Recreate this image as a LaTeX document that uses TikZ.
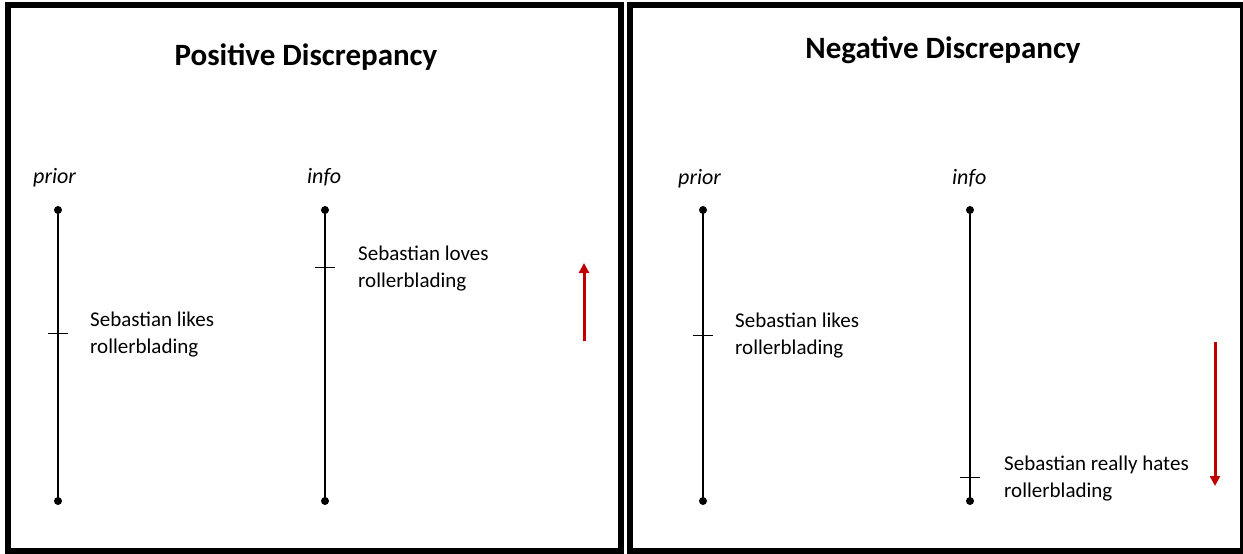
\documentclass[tikz,border=0pt]{standalone}
\usepackage{fontspec}
\setmainfont{Carlito}
\usetikzlibrary{arrows.meta}
\definecolor{arrred}{RGB}{192,0,0}
\tikzset{
  panel/.style={draw=black,line width=6pt},
  paneltitle/.style={font=\fontsize{31}{37}\selectfont\bfseries,anchor=base,inner sep=0pt},
  axislabel/.style={font=\fontsize{22}{26}\selectfont\itshape,anchor=base west,inner sep=0pt},
  desc/.style={font=\fontsize{21}{27}\selectfont,anchor=base west,align=left,inner sep=0pt},
  axisline/.style={draw=black,line width=2pt},
  tickmark/.style={draw=black,line width=1pt},
  enddot/.style={circle,fill=black,inner sep=0pt,minimum size=8pt},
  redarrow/.style={draw=arrred,line width=3pt,-{Triangle[length=10pt,width=10pt]}}
}
\begin{document}
\begin{tikzpicture}[x=1pt,y=-1pt]
\useasboundingbox (0,0) rectangle (1243,554);
\fill[white] (0,0) rectangle (1243,554);
% panels
\draw[panel] (8,5) rectangle (621,551);
\draw[panel] (630,5) rectangle (1243,551);
% left panel
\node[paneltitle] (t1) at (306,65) {Positive Discrepancy};
\node[axislabel] (p1) at (33,183) {prior};
\node[axislabel] (i1) at (307,183) {info};
\node[enddot] (p1a) at (58,210) {};
\node[enddot] (p1b) at (58,501) {};
\draw[axisline] (p1a.center) -- (p1b.center);
\coordinate (p1t) at (58,333);
\draw[tickmark] ([xshift=-10pt]p1t) -- ([xshift=10pt]p1t);
\node[desc] (l1) at (90,353) {Sebastian likes\\rollerblading};
\node[enddot] (i1a) at (325,210) {};
\node[enddot] (i1b) at (325,501) {};
\draw[axisline] (i1a.center) -- (i1b.center);
\coordinate (i1t) at (325,267);
\draw[tickmark] ([xshift=-10pt]i1t) -- ([xshift=10pt]i1t);
\node[desc] (l2) at (358,287) {Sebastian loves\\rollerblading};
\coordinate (a1s) at (584,341);
\coordinate (a1e) at (584,263);
\draw[redarrow] (a1s) -- (a1e);
% right panel
\node[paneltitle] (t2) at (943,58) {Negative Discrepancy};
\node[axislabel] (p2) at (678,184) {prior};
\node[axislabel] (i2) at (952,184) {info};
\node[enddot] (p2a) at (703,210) {};
\node[enddot] (p2b) at (703,501) {};
\draw[axisline] (p2a.center) -- (p2b.center);
\coordinate (p2t) at (703,335);
\draw[tickmark] ([xshift=-10pt]p2t) -- ([xshift=10pt]p2t);
\node[desc] (l3) at (735,354) {Sebastian likes\\rollerblading};
\node[enddot] (i2a) at (970,210) {};
\node[enddot] (i2b) at (970,501) {};
\draw[axisline] (i2a.center) -- (i2b.center);
\coordinate (i2t) at (970,477);
\draw[tickmark] ([xshift=-10pt]i2t) -- ([xshift=10pt]i2t);
\node[desc] (l4) at (1004,497) {Sebastian really hates\\rollerblading};
\coordinate (a2s) at (1215,342);
\coordinate (a2e) at (1215,486);
\draw[redarrow] (a2s) -- (a2e);
\end{tikzpicture}
\end{document}
